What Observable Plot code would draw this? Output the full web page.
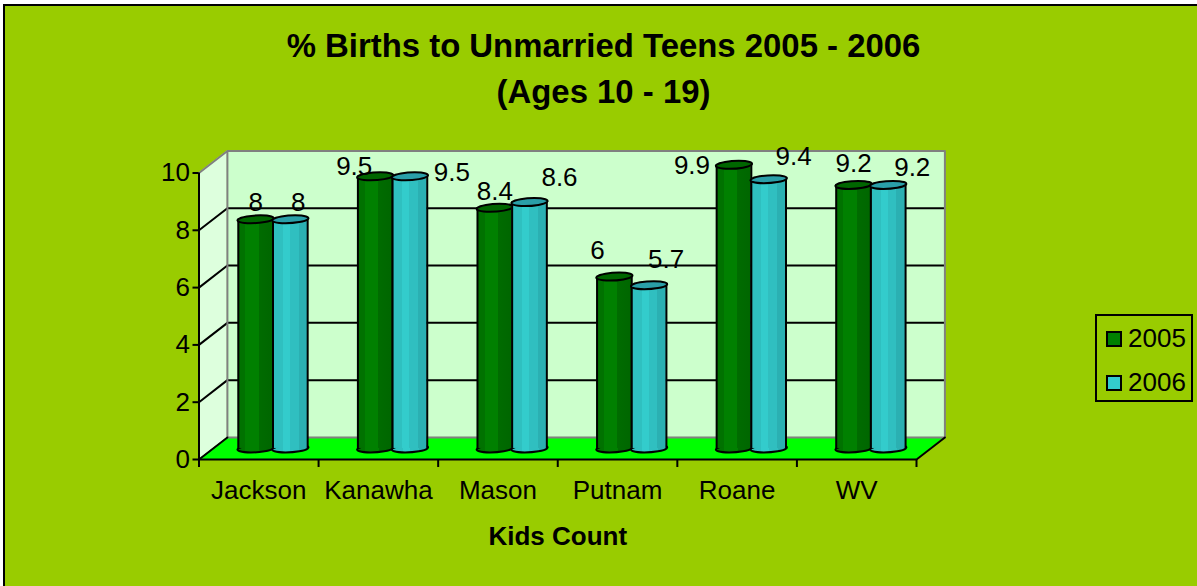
<!DOCTYPE html>
<html><head><meta charset="utf-8">
<script src="https://cdn.jsdelivr.net/npm/d3@7"></script>
<script src="https://cdn.jsdelivr.net/npm/@observablehq/plot@0.6"></script>
<style>
html,body{margin:0;padding:0;background:#fff;}
#frame{position:relative;width:1197px;height:586px;overflow:hidden;font-family:"Liberation Sans",Arial,sans-serif;color:#000;}
#bg{position:absolute;left:3px;top:4px;right:-4px;bottom:-4px;background:#99CC00;border:2px solid #000;}
#chart{position:absolute;left:0;top:0;}
#title{position:absolute;left:5px;width:1197px;top:23px;text-align:center;font-weight:bold;font-size:32.9px;line-height:46px;}
#legend{position:absolute;left:1095px;top:314px;width:94px;height:84px;border:2px solid #000;}
.row{position:absolute;left:0;height:30px;font-size:26px;line-height:30px;white-space:nowrap;}
.sw{position:absolute;left:9px;top:3px;width:12px;height:12px;border:2px solid #000;}
.lb{position:absolute;left:31px;top:-5px;}
</style></head><body>
<div id="frame"><div id="bg"></div><div id="chart"></div>
<div id="title">% Births to Unmarried Teens 2005 - 2006<br>(Ages 10 - 19)</div>
<div id="legend"></div></div>
<script>
const categories = ["Jackson","Kanawha","Mason","Putnam","Roane","WV"];
const seriesNames = ["2005","2006"];
const values2005 = [8,9.5,8.4,6,9.9,9.2];
const values2006 = [8,9.5,8.6,5.7,9.4,9.2];
const yTicks = [0,2,4,6,8,10];

// hand-placed label nudges in the original (pixels)
const nudge2005 = [[0,-17],[-21,-10],[0,-16],[-17,-26],[-42,1],[0,-21]];
const nudge2006 = [[8,-17],[42,-4],[30,-24],[17,-25],[25,-22],[24,-17]];

// oblique projection in scale units: depth 1 = back wall
const DX = 0.2375, DY = 0.77, BW = 0.29, MID = 0.5 + DX/2, BASE = DY/2;
const xMax = categories.length, yMax = 10;

const palette = {
  "2005": {stops:[[0,"#007200"],[.22,"#007200"],[.22,"#008000"],[.6,"#008000"],[.6,"#006C00"],[1,"#006600"]], top:"#006600", key:"#008000", id:"g5"},
  "2006": {stops:[[0,"#2FC0C0"],[.3,"#2FC0C0"],[.3,"#33CCCC"],[.5,"#33CCCC"],[.5,"#30BFC0"],[.75,"#30BFC0"],[.75,"#2BB0B2"],[1,"#2BB0B2"]], top:"#2A9FA8", key:"#33CCCC", id:"g6"}
};

const bars = [];
categories.forEach((c,i)=>{
  bars.push({c,i,s:"2005",v:values2005[i],x1:i+MID-BW,x2:i+MID,n:nudge2005[i]});
  bars.push({c,i,s:"2006",v:values2006[i],x1:i+MID,x2:i+MID+BW,n:nudge2006[i]});
});

// sheared ellipse: the oblique view of a cylinder's end
const ellipse = {draw(ctx){
  const rx=17.5, ry=4, k=0.5523, s=-1.2;
  const X=(x,y)=>x+s*y;
  ctx.moveTo(X(-rx,0),0);
  ctx.bezierCurveTo(X(-rx,-ry*k),-ry*k,X(-rx*k,-ry),-ry,X(0,-ry),-ry);
  ctx.bezierCurveTo(X(rx*k,-ry),-ry,X(rx,-ry*k),-ry*k,X(rx,0),0);
  ctx.bezierCurveTo(X(rx,ry*k),ry*k,X(rx*k,ry),ry,X(0,ry),ry);
  ctx.bezierCurveTo(X(-rx*k,ry),ry,X(-rx,ry*k),ry*k,X(-rx,0),0);
  ctx.closePath();
}};

const defs = () => {
  const svg = d3.create("svg:g");
  const d = svg.append("defs");
  for (const s of seriesNames) {
    const g = d.append("linearGradient").attr("id",palette[s].id);
    for (const [o,col] of palette[s].stops) g.append("stop").attr("offset",o).attr("stop-color",col);
  }
  return svg.node();
};

const marks = [defs];
// floor, back wall, side wall
marks.push(Plot.areaX([{y:0,a:0,b:xMax},{y:DY,a:DX,b:xMax+DX}],{y:"y",x1:"a",x2:"b",fill:"#00FF00"}));
marks.push(Plot.rect([0],{x1:DX,x2:xMax+DX,y1:DY,y2:yMax+DY,fill:"#CCFFCC"}));
marks.push(Plot.areaY([{x:0,a:0,b:yMax},{x:DX,a:DY,b:yMax+DY}],{x:"x",y1:"a",y2:"b",fill:"#DDFFDD"}));
// gridlines on back and side walls
const gridV = yTicks.filter(v=>v>0&&v<yMax);
marks.push(Plot.ruleY(gridV,{y:v=>v+DY,x1:DX,x2:xMax+DX,stroke:"#000",strokeWidth:2}));
for (const v of gridV) marks.push(Plot.line([[0,v],[DX,v+DY]],{stroke:"#000",strokeWidth:2}));
// wall outlines
marks.push(Plot.line([[0,yMax],[DX,yMax+DY],[xMax+DX,yMax+DY],[xMax+DX,DY],[DX,DY],[DX,yMax+DY]],{stroke:"#808080",strokeWidth:2}));
// floor edges
marks.push(Plot.line([[0,0],[DX,DY]],{stroke:"#000",strokeWidth:2}));
marks.push(Plot.line([[xMax,0],[xMax+DX,DY]],{stroke:"#000",strokeWidth:2}));
// axes
marks.push(Plot.ruleX([0],{y1:0,y2:yMax,stroke:"#000",strokeWidth:2}));
marks.push(Plot.ruleY([0],{x1:0,x2:xMax,stroke:"#000",strokeWidth:2}));
marks.push(Plot.axisY({ticks:yTicks,tickSize:6,tickPadding:3,fontSize:26,label:null,strokeWidth:2,stroke:"#000",fill:"#000"}));
marks.push(Plot.axisX({ticks:d3.range(xMax+1),tickSize:8,tickFormat:()=>"",label:null,strokeWidth:2,stroke:"#000"}));
marks.push(Plot.axisX({ticks:categories.map((c,i)=>i+0.5),tickSize:0,tickPadding:21,tickFormat:d=>categories[Math.floor(d)],fontSize:26,label:null,fill:"#000"}));
marks.push(Plot.text(["Kids Count"],{x:xMax/2,frameAnchor:"bottom",dy:77,lineAnchor:"middle",text:d=>d,fontSize:26,fontWeight:"bold",fill:"#000"}));
// cylinders, series by series
for (const b of bars) {
  const p = palette[b.s];
  const cx = (b.x1+b.x2)/2;
  const one = [b];
  marks.push(Plot.dot(one,{x:()=>cx,y:()=>BASE,symbol:ellipse,fill:`url(#${p.id})`,stroke:"#000",strokeWidth:2}));
  marks.push(Plot.rect(one,{x1:"x1",x2:"x2",y1:()=>BASE,y2:d=>d.v+BASE,fill:`url(#${p.id})`}));
  marks.push(Plot.ruleX(one,{x:"x1",y1:()=>BASE,y2:d=>d.v+BASE,stroke:"#000",strokeWidth:2}));
  marks.push(Plot.ruleX(one,{x:"x2",y1:()=>BASE,y2:d=>d.v+BASE,stroke:"#000",strokeWidth:2}));
  marks.push(Plot.dot(one,{x:()=>cx,y:d=>d.v+BASE,symbol:ellipse,fill:p.top,stroke:"#000",strokeWidth:2}));
}
// data labels
for (const b of bars) {
  marks.push(Plot.text([b],{x:d=>(d.x1+d.x2)/2,y:d=>d.v+BASE,text:d=>String(d.v),dx:b.n[0],dy:b.n[1],fontSize:26,fill:"#000",lineAnchor:"middle"}));
}

const plot = Plot.plot({
  width:1197,height:586,
  marginLeft:198.5,marginRight:281,marginTop:172.5,marginBottom:127,
  x:{type:"linear",domain:[0,xMax]},
  y:{type:"linear",domain:[0,yMax]},
  style:{background:"transparent",fontFamily:"'Liberation Sans',Arial,sans-serif",overflow:"visible"},
  marks
});
document.getElementById("chart").appendChild(plot);

const lg = document.getElementById("legend");
seriesNames.forEach((s,i)=>{
  const r=document.createElement("div");r.className="row";r.style.top=(12+i*44)+"px";
  r.innerHTML=`<span class="sw" style="background:${palette[s].key}"></span><span class="lb">${s}</span>`;
  lg.appendChild(r);
});
</script>
</body></html>
